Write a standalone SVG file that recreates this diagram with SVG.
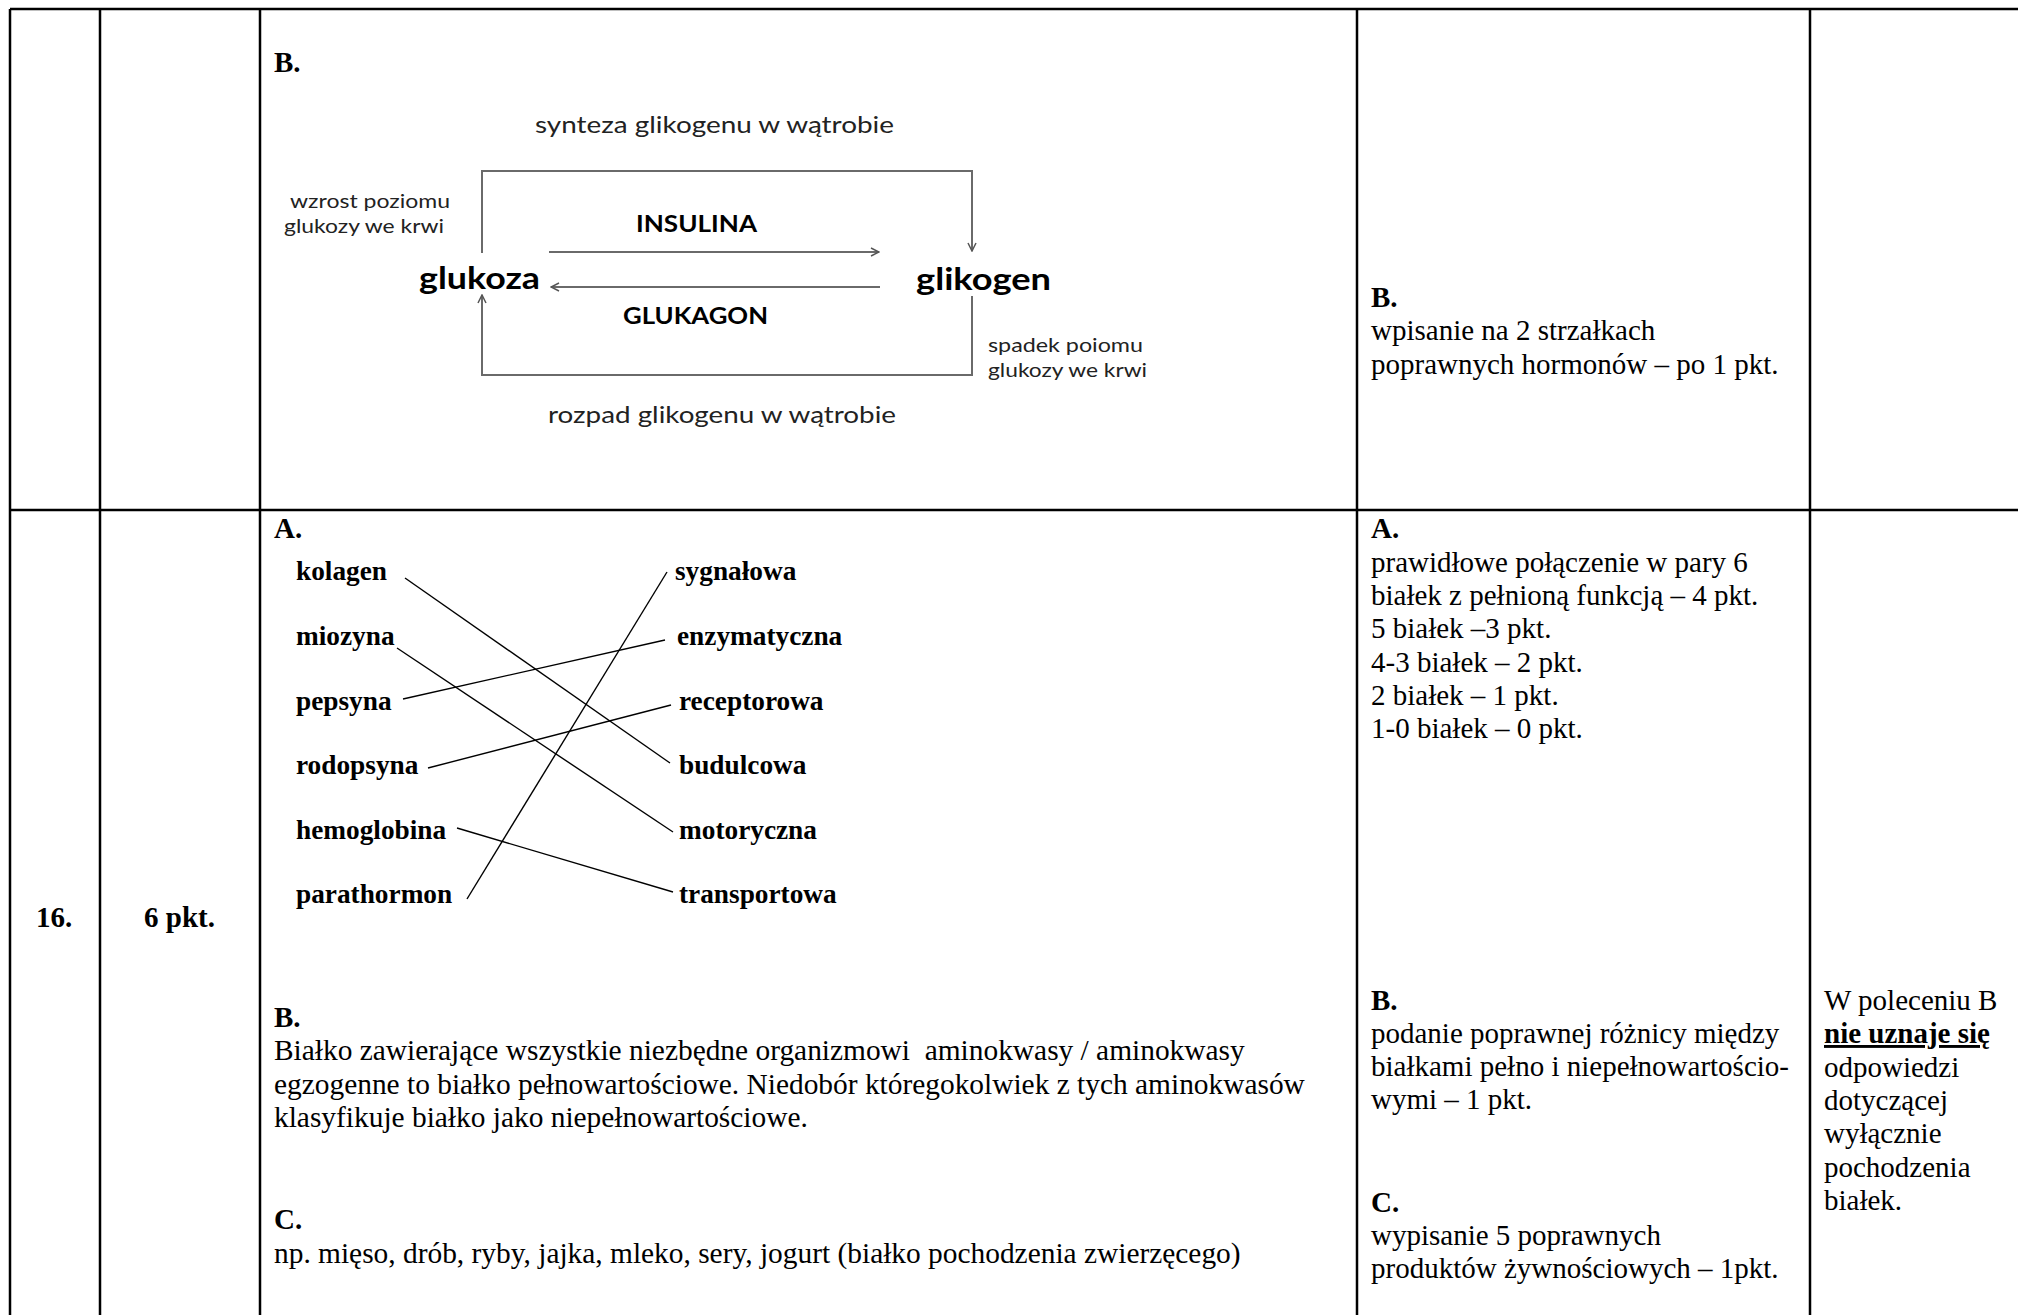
<svg xmlns="http://www.w3.org/2000/svg" width="2018" height="1315" viewBox="0 0 2018 1315">
<style>
.grid{stroke:#000;stroke-width:2.5;fill:none}
.t{font-family:"Liberation Serif","Times New Roman",serif;font-size:29px;fill:#000}
.w{font-size:29.4px}
.b{font-weight:bold}
.nm{font-family:"Liberation Serif","Times New Roman",serif;font-size:27.3px;font-weight:bold;fill:#000}
.d{font-family:Lato,"Open Sans",sans-serif;fill:#222}
.db{font-family:Lato,"Open Sans",sans-serif;font-weight:bold;fill:#000}
.ln{stroke:#000;stroke-width:1.4;fill:none}
.ar{stroke:#6a6a6a;stroke-width:2;fill:none}
</style>
<defs>
<marker id="chev" viewBox="0 0 10 10" refX="9" refY="5" markerWidth="10" markerHeight="10" markerUnits="userSpaceOnUse" orient="auto">
<path d="M1,1 L9,5 L1,9" fill="none" stroke="#555" stroke-width="1.5"/>
</marker>
</defs>
<rect width="2018" height="1315" fill="#fff"/>
<g id="table">
<line class="grid" x1="10" y1="9" x2="2018" y2="9"/>
<line class="grid" x1="10" y1="510" x2="2018" y2="510"/>
<line class="grid" x1="10" y1="9" x2="10" y2="1315"/>
<line class="grid" x1="100" y1="9" x2="100" y2="1315"/>
<line class="grid" x1="260" y1="9" x2="260" y2="1315"/>
<line class="grid" x1="1357" y1="9" x2="1357" y2="1315"/>
<line class="grid" x1="1810" y1="9" x2="1810" y2="1315"/>
</g>
<g id="row-top">
<text class="t b" x="274" y="72">B.</text>
<g id="criteria-top">
<text class="t b" x="1371" y="307">B.</text>
<text class="t" x="1371" y="340">wpisanie na 2 strzałkach</text>
<text class="t" x="1371" y="374">poprawnych hormonów – po 1 pkt.</text>
</g>
</g>
<g id="diagram-labels">
<text class="d" x="535" y="133" font-size="23" textLength="359" lengthAdjust="spacingAndGlyphs">synteza glikogenu w wątrobie</text>
<text class="d" x="290" y="208" font-size="20" textLength="160" lengthAdjust="spacingAndGlyphs">wzrost poziomu</text>
<text class="d" x="284" y="233" font-size="20" textLength="160" lengthAdjust="spacingAndGlyphs">glukozy we krwi</text>
<text class="db" x="636" y="232" font-size="23" textLength="121" lengthAdjust="spacingAndGlyphs">INSULINA</text>
<text class="db" x="623" y="324" font-size="23" textLength="145" lengthAdjust="spacingAndGlyphs">GLUKAGON</text>
<text class="d" x="988" y="352" font-size="20" textLength="155" lengthAdjust="spacingAndGlyphs">spadek poiomu</text>
<text class="d" x="988" y="377" font-size="20" textLength="159" lengthAdjust="spacingAndGlyphs">glukozy we krwi</text>
<text class="d" x="548" y="423" font-size="23" textLength="348" lengthAdjust="spacingAndGlyphs">rozpad glikogenu w wątrobie</text>
</g>
<g id="node-glukoza">
<text class="db" x="419" y="289" font-size="31" textLength="121" lengthAdjust="spacingAndGlyphs">glukoza</text>
</g>
<g id="node-glikogen">
<text class="db" x="916" y="290" font-size="31" textLength="135" lengthAdjust="spacingAndGlyphs">glikogen</text>
</g>
<g id="row-16">
<text class="t b" x="36" y="927">16.</text>
<text class="t b" x="144" y="927">6 pkt.</text>
<text class="t b" x="274" y="538">A.</text>
<g id="proteins">
<g id="p-kolagen"><text class="nm" x="296" y="580">kolagen</text></g>
<g id="p-miozyna"><text class="nm" x="296" y="645">miozyna</text></g>
<g id="p-pepsyna"><text class="nm" x="296" y="710">pepsyna</text></g>
<g id="p-rodopsyna"><text class="nm" x="296" y="774">rodopsyna</text></g>
<g id="p-hemoglobina"><text class="nm" x="296" y="839">hemoglobina</text></g>
<g id="p-parathormon"><text class="nm" x="296" y="903">parathormon</text></g>
</g>
<g id="functions">
<g id="f-sygnalowa"><text class="nm" x="675" y="580">sygnałowa</text></g>
<g id="f-enzymatyczna"><text class="nm" x="677" y="645">enzymatyczna</text></g>
<g id="f-receptorowa"><text class="nm" x="679" y="710">receptorowa</text></g>
<g id="f-budulcowa"><text class="nm" x="679" y="774">budulcowa</text></g>
<g id="f-motoryczna"><text class="nm" x="679" y="839">motoryczna</text></g>
<g id="f-transportowa"><text class="nm" x="679" y="903">transportowa</text></g>
</g>
<g id="answer-B">
<text class="t b" x="274" y="1027">B.</text>
<text class="t w" x="274" y="1060" xml:space="preserve">Białko zawierające wszystkie niezbędne organizmowi  aminokwasy / aminokwasy</text>
<text class="t w" x="274" y="1094">egzogenne to białko pełnowartościowe. Niedobór któregokolwiek z tych aminokwasów</text>
<text class="t w" x="274" y="1127">klasyfikuje białko jako niepełnowartościowe.</text>
</g>
<g id="answer-C">
<text class="t b" x="274" y="1229">C.</text>
<text class="t w" x="274" y="1263">np. mięso, drób, ryby, jajka, mleko, sery, jogurt (białko pochodzenia zwierzęcego)</text>
</g>
<g id="criteria-A">
<text class="t b" x="1371" y="538">A.</text>
<text class="t" x="1371" y="572">prawidłowe połączenie w pary 6</text>
<text class="t" x="1371" y="605">białek z pełnioną funkcją – 4 pkt.</text>
<text class="t" x="1371" y="638">5 białek –3 pkt.</text>
<text class="t" x="1371" y="672">4-3 białek – 2 pkt.</text>
<text class="t" x="1371" y="705">2 białek – 1 pkt.</text>
<text class="t" x="1371" y="738">1-0 białek – 0 pkt.</text>
</g>
<g id="criteria-B">
<text class="t b" x="1371" y="1010">B.</text>
<text class="t" x="1371" y="1043">podanie poprawnej różnicy między</text>
<text class="t" x="1371" y="1076">białkami pełno i niepełnowartościo-</text>
<text class="t" x="1371" y="1109">wymi – 1 pkt.</text>
</g>
<g id="criteria-C">
<text class="t b" x="1371" y="1212">C.</text>
<text class="t" x="1371" y="1245">wypisanie 5 poprawnych</text>
<text class="t" x="1371" y="1278">produktów żywnościowych – 1pkt.</text>
</g>
<g id="remarks">
<text class="t" x="1824" y="1010">W poleceniu B</text>
<text class="t b" x="1824" y="1043" text-decoration="underline">nie uznaje się</text>
<text class="t" x="1824" y="1077">odpowiedzi</text>
<text class="t" x="1824" y="1110">dotyczącej</text>
<text class="t" x="1824" y="1143">wyłącznie</text>
<text class="t" x="1824" y="1177">pochodzenia</text>
<text class="t" x="1824" y="1210">białek.</text>
</g>
</g>
<g id="connectors">
<polyline class="ar" points="482,253 482,171 972,171 972,251" marker-end="url(#chev)"/>
<line class="ar" x1="549" y1="252" x2="879" y2="252" marker-end="url(#chev)"/>
<line class="ar" x1="880" y1="287" x2="551" y2="287" marker-end="url(#chev)"/>
<polyline class="ar" points="972,296 972,375 482,375 482,295" marker-end="url(#chev)"/>
<line class="ln" x1="405" y1="578" x2="670" y2="763"/>
<line class="ln" x1="397" y1="648" x2="673" y2="832"/>
<line class="ln" x1="403" y1="699" x2="665" y2="640"/>
<line class="ln" x1="428" y1="768" x2="671" y2="705"/>
<line class="ln" x1="457" y1="828" x2="673" y2="892"/>
<line class="ln" x1="467" y1="899" x2="667" y2="572"/>
</g>
</svg>
